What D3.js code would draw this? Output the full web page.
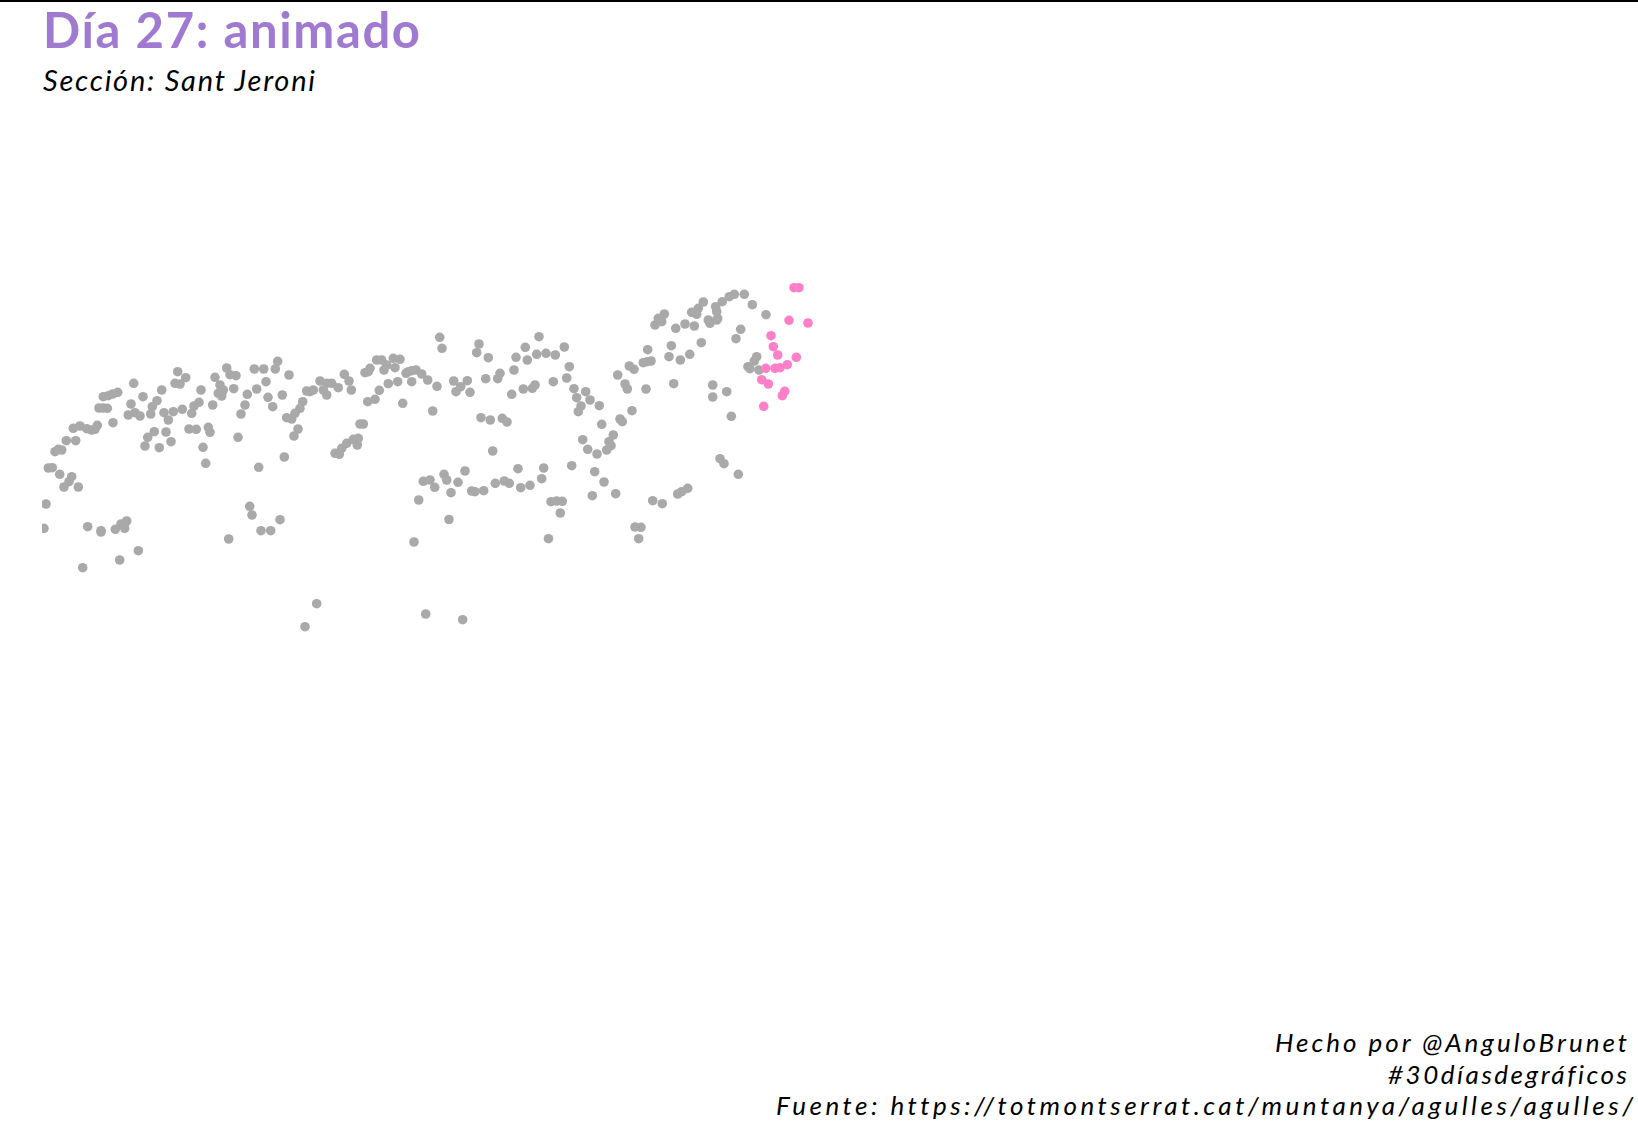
<!DOCTYPE html>
<html><head>
<meta charset="utf-8">
<title>Día 27: animado</title>
<script src="https://d3js.org/d3.v7.min.js"></script>
<style>
  html, body { margin: 0; padding: 0; background: white; }
  svg { display: block; }
  text { font-family: Lato, sans-serif; font-variant-ligatures: none; }
</style>
</head>
<body>
<svg id="chart" width="1638" height="1126"></svg>

<script>
  // perfil de las agujas, [distancia, altura]
  const agujasOeste = [[93.7,256.7],[137.7,268.3],[145.7,262.3],[135,256.7],[140,256],[121.7,250],[103,243.3],[77.7,247.7],[72.7,246],[68.3,244.3],[63.3,243.3],[59,232],[63,232],[67.3,231.7],[91,236],[117,239.3],[112.3,233.3],[110.7,226],[88.3,225],[95,227.3],[100,224],[124,227.3],[133.3,228.3],[128.3,220],[142.3,230.7],[151.7,226.7],[154,234],[159,237.7],[161,250],[172.7,235],[175,262.7],[186.7,272],[190,265.3],[196,264.3],[180,255],[178.3,246.7],[183.3,250],[181.7,244],[193.7,251.3],[214.3,271],[223.7,271],[237.7,278.7],[235.3,271],[249,265],[226,258.3],[216.7,251],[207.3,245.7],[228,242.7],[232.7,233.3],[242.3,245],[205,235],[201,226],[246.7,222.3],[251.7,221],[258,211],[254,204],[198,202.7],[244.3,183],[218.7,172.7],[163,192.7],[165.7,176.7],[168.3,212.7],[170,207.7],[149,211],[156.3,210.7],[126,208],[131,198.3],[119.3,192.3],[114.3,208.3],[107.7,202.7],[105,194],[73,217.3],[33.3,211.7],[40,214],[46.7,211.3],[51.7,210],[57.3,214.7],[55,210.7],[35.7,199.3],[26.3,199.3],[15,188.3],[21.7,190],[18.3,190.7],[8.3,172],[12.3,172.3],[19.7,165.7],[31.7,163.3],[29,158.3],[24,153],[38.3,153],[6,136],[4,111.7],[47.7,113.3],[61,109.3],[61,108],[75.3,110.7],[81,116],[86.7,119],[84.3,116],[84.7,111.7],[98.3,89.3],[79.7,80],[42.7,72.3],[209.7,133.7],[212,125],[240,120.3],[221,109.3],[230.7,109.3],[188.7,101]];
  const agujasCentro = [[262.7,238.3],[260,231.7],[255,226.7],[270,248.3],[266.7,249],[273.3,250],[280,259],[286.7,256.7],[291.7,256.7],[298.3,252.3],[283.3,250],[286.7,245],[304.3,265.7],[309,259],[311.3,250],[320,216],[323.3,216],[318.3,201.7],[313.3,200.7],[317.3,195],[306.7,196.7],[301.7,191.7],[295,186.7],[299.3,185.7],[325,267.3],[330,271.7],[328.3,268.3],[336.7,280],[341.7,280],[346.7,275],[344,270],[353.3,281.7],[360,280.7],[355,272.3],[339.3,249.7],[348.3,256.3],[357.7,258.3],[335,240.7],[327.7,238.3],[362.7,236.7],[366,266.7],[368.3,268.3],[376,270],[371.7,269.3],[381.7,266],[371.7,258.3],[387.7,260],[397,253.7],[392.7,229],[399.7,302.7],[402,291.7],[439,296],[436.7,287.3],[448.3,282.3],[413.7,259],[427.3,259.3],[420.7,253.3],[416,248.3],[430,247.7],[445.7,261.3],[460,266.7],[457.7,261.3],[474,270],[476,282.7],[485.3,292.7],[487.3,280],[499,303.3],[496.7,285.7],[506,286.7],[515.3,285],[471.7,245.7],[483.3,251],[492.3,251.7],[495,255],[513.3,258.3],[441,222.3],[450.3,220],[462.3,221.7],[467,218],[452.7,189],[478,171.3],[503.7,172],[501.7,161.3],[490,154.7],[480.7,152.3],[464.3,159],[469.3,156.7],[455.3,156.7],[443.7,149.3],[431.7,149],[435,148.3],[425,169],[418,157.7],[411,147.3],[404,165.7],[406.7,160],[394.7,152.7],[383.3,158.7],[390,160],[378.7,140],[409,120.5],[374,98],[276.7,36.3],[265,13.3],[385.7,26],[422.7,20.3]];
  const agujasEste = [[511,138.3],[516.7,139],[522.3,138.7],[520.3,127],[508.5,101.3],[524.3,293],[529.3,273.3],[526.7,262],[534,251.3],[536.7,242.3],[545.7,248.3],[550,240],[559.3,234.3],[541,234],[538.3,228.3],[580,221],[582.3,218.3],[592,229.3],[561.7,215.7],[573.3,205],[569,198.3],[571,194.3],[566.7,190],[542.7,200.3],[547.7,190.7],[557,186],[531.7,174.3],[554.7,168.3],[564,158],[552.3,144.3],[575.7,146.3],[612.7,139.3],[622.3,136.3],[637.7,146],[641.7,148.3],[647.7,151.7],[680,181.3],[684,176.3],[698.3,165.7],[595,113],[601,112.7],[598.7,101.3],[615,315],[618.3,321.7],[621.7,318.3],[624.3,326],[635.7,311.7],[645,316],[654.3,314],[668.3,320],[670,316.7],[676.7,320],[677.7,321.7],[676.7,328.3],[675.7,333.3],[682.3,338.3],[689.3,343.3],[694.3,345.7],[704.3,345.7],[663.3,338],[658.3,331.7],[651.7,327.7],[656.7,325.7],[712.3,335.3],[726,325.3],[700.7,310.7],[696,301.3],[661.3,297.3],[631.3,294.3],[607.7,290.3],[629,283.3],[640.3,280],[649.7,285.7],[611,279],[603.3,277.3],[607.3,278.3],[589.3,274],[594,270.7],[577.7,265],[585,256],[587.3,251],[606,251],[633.7,256.3],[672.7,255],[672.7,243],[686.7,248.3],[691.3,223.7],[716.7,283.3],[714.3,279],[708,273.3],[710,271.3],[719,270]];
  // los puntos de la seccion actual, en rosa
  const seccionActual = [[754,352.3],[759,352.3],[749,319.7],[768,317],[731,304.3],[733.3,293.3],[737.7,285],[756.3,282.7],[725.7,271.7],[735,271.7],[740,272.3],[747.3,275.3],[721.7,260.3],[728.3,256],[744.7,248.7],[742.3,244.3],[723.7,233.7]];

  const titulo = "Día 27: animado";
  const subtitulo = "Sección: Sant Jeroni";
  const caption = ["Hecho por @AnguloBrunet", "#30díasdegráficos", "Fuente: https://totmontserrat.cat/muntanya/agulles/agulles/"];

  const svg = d3.select("svg#chart");
  const x = d3.scaleLinear().domain([0, 800]).range([40, 840]);
  const y = d3.scaleLinear().domain([0, 400]).range([640, 240]);

  // franja negra arriba del todo
  svg.append("rect").attr("width", 1638).attr("height", 2).attr("fill", "black");

  svg.append("clipPath").attr("id", "panel")
    .append("rect").attr("x", 42).attr("y", 0).attr("width", 1596).attr("height", 1126);

  const puntos = svg.append("g").attr("clip-path", "url(#panel)");

  puntos.selectAll("circle.gris")
    .data(agujasOeste.concat(agujasCentro, agujasEste))
    .join("circle")
    .attr("class", "gris")
    .attr("cx", d => x(d[0]))
    .attr("cy", d => y(d[1]))
    .attr("r", 4.8)
    .attr("fill", "#a9a9a9");

  puntos.selectAll("circle.rosa")
    .data(seccionActual)
    .join("circle")
    .attr("class", "rosa")
    .attr("cx", d => x(d[0]))
    .attr("cy", d => y(d[1]))
    .attr("r", 4.8)
    .attr("fill", "#ff7fc8");

  svg.append("text")
    .attr("x", 43).attr("y", 48)
    .attr("font-size", 49)
    .attr("font-weight", 700)
    .attr("textLength", 377)
    .attr("fill", "#a07ad0")
    .text(titulo);

  svg.append("text")
    .attr("x", 43).attr("y", 91)
    .attr("font-size", 29)
    .attr("font-style", "italic")
    .attr("textLength", 272)
    .attr("fill", "black")
    .text(subtitulo);

  const baselines = [1052, 1083.5, 1115];
  const anchos = [352, 239, 857];
  const finales = [1627, 1627, 1633];
  svg.selectAll("text.caption")
    .data(caption)
    .join("text")
    .attr("class", "caption")
    .attr("x", (d, i) => finales[i])
    .attr("y", (d, i) => baselines[i])
    .attr("text-anchor", "end")
    .attr("font-size", 26)
    .attr("font-style", "italic")
    .attr("textLength", (d, i) => anchos[i])
    .attr("fill", "black")
    .text(d => d);
</script>

</body>
</html>
